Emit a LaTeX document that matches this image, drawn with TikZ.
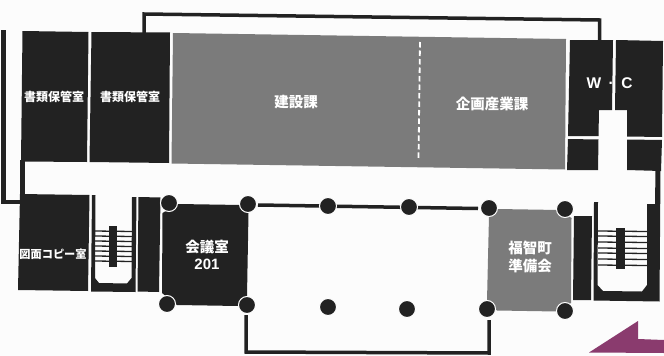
\documentclass[tikz,border=0pt]{standalone}
\usepackage{fontspec}
\usepackage{xcolor}
\setmainfont{Noto Sans CJK JP}
\setsansfont{Liberation Sans}
\definecolor{roomblack}{HTML}{222222}
\definecolor{roomgray}{HTML}{7B7B7B}
\definecolor{arrowplum}{HTML}{8A3B6E}
\tikzset{
  blackroom/.style={fill=roomblack},
  grayroom/.style={fill=roomgray},
  wall/.style={draw=roomblack, line width=3.5pt, line join=miter},
  column/.style={fill=roomblack, draw=white, line width=1pt},
  tread/.style={draw=roomblack, line width=1.3pt},
  roomlabel/.style={text=white, font=\bfseries\fontsize{14.5}{18}\selectfont, align=center, inner sep=0pt},
  smalllabel/.style={roomlabel, font=\bfseries\fontsize{12}{14}\selectfont}
}
\begin{document}
\begin{tikzpicture}[x=1pt, y=-1pt]
    % Page
    \useasboundingbox (0,0) rectangle (664,356);
    \fill[white!99!black] (0,0) rectangle (664,356);

    % Draw outer walls
    \draw[wall] (144,33) -- (144,14) -- (599.5,20) -- (599.5,41);
    \draw[wall, line width=4.5pt] (3.5,30) -- (3.5,202) -- (22,202);
    \draw[wall, line width=4.5pt] (22.5,160) -- (22.5,196);
    \draw[wall] (246,315) -- (246,352) -- (489,353) -- (489,320);
    \draw[wall] (258,205) -- (478,208.5);

    % Draw rooms on the north side
    \fill[blackroom] (22.5,31) -- (88.5,32) -- (87,162) -- (21,161.5) -- cycle;
    \fill[blackroom] (91.5,32) -- (170,32.5) -- (169,163) -- (89.5,162) -- cycle;
    \fill[grayroom] (173,33) -- (566,39) -- (565,169.5) -- (171.5,163.5) -- cycle;
    \draw[white, line width=1.8pt, dash pattern=on 5.5pt off 3pt] (420,42) -- (418.5,160);

    % Draw W.C
    \fill[blackroom] (570,40) -- (613,40) -- (612,110) -- (599,110) -- (598.5,136) -- (568,136) -- cycle;
    \fill[blackroom] (616,40) -- (663,41) -- (662,137) -- (627,136.5) -- (627,110) -- (615,110) -- cycle;
    \fill[blackroom] (568,139) -- (598.5,139.5) -- (598,170) -- (567,170) -- cycle;
    \fill[blackroom] (627,139.5) -- (662,140) -- (661,171) -- (627,170) -- cycle;

    % Draw rooms on the south side
    \fill[blackroom] (20,194) -- (89.5,195) -- (88,291) -- (18,290) -- cycle;
    \fill[blackroom] (138.5,197) -- (160.5,197.5) -- (159,292) -- (137.5,291.5) -- cycle;
    \fill[blackroom] (178,204) -- (241,205) -- (248.5,213) -- (247,296) -- (238,306) -- (177,305) -- (162,293) -- (162.5,213) -- cycle;
    \fill[blackroom] (574,216) -- (592,216) -- (591,300) -- (573,300) -- cycle;
    \fill[grayroom] (497,209) -- (559,210) -- (571.5,218) -- (571,303) -- (557,311.5) -- (497,310.5) -- (487,301) -- (489,216) -- cycle;

    % Draw stairs on the left
    \fill[blackroom] (92,195) -- (95.5,195) -- (95,278) -- (99,283) -- (127,283.5) -- (131.5,278) -- (132,197) -- (136.5,197) -- (135.5,292) -- (91,291.5) -- cycle;
    \foreach \y in {231,236,241,246,251,256,261} {
        \draw[tread] (95,\y) -- (132,\y+0.5);
    }
    \fill[blackroom] (108.5,226) rectangle (117,267);

    % Draw stairs on the right
    \fill[blackroom] (594,202) -- (598,202) -- (597.5,285) -- (603,291) -- (642,291.5) -- (647,285) -- (647,204) -- (655,204) -- (655.5,170) -- (660.5,170) -- (659.5,301.5) -- (593.5,300.5) -- cycle;
    \foreach \y in {231,236,242,248,253,259,265} {
        \draw[tread] (598,\y) -- (647,\y+0.5);
    }
    \fill[blackroom] (616,228) rectangle (625,269);

    % Draw columns
    \foreach \cx/\cy in {169/203, 248/204, 328/206, 409/207, 489/208, 565/209,
                         167/304, 247/305, 328/307, 407/309, 487/309, 565/311} {
        \path[column] (\cx,\cy) circle (8.5);
    }

    % Add entrance arrow
    \fill[arrowplum] (589,352.5) -- (638,321) -- (638,339) -- (664,340) -- (664,353) -- cycle;

    % Add labels
    \node[smalllabel] (shorui1) at (54,97) {書類保管室};
    \node[smalllabel] (shorui2) at (130,97) {書類保管室};
    \node[roomlabel] (kensetsu) at (296,102) {建設課};
    \node[roomlabel] (kikaku) at (492,104) {企画産業課};
    \node[roomlabel, font=\sffamily\bfseries\fontsize{15.5}{18}\selectfont] (wc) at (609.5,83) {W{\kern7.5pt}·{\kern7.5pt}C};
    \node[smalllabel, font=\bfseries\fontsize{11.2}{14}\selectfont] (zumen) at (53,254) {図面コピー室};
    \node[roomlabel, font=\bfseries\fontsize{14.5}{17}\selectfont] (kaigi) at (207,255) {会議室\\{\sffamily\fontsize{15}{17}\selectfont 201}};
    \node[roomlabel] (fukushi) at (530,257) {福智町\\準備会};
\end{tikzpicture}
\end{document}
